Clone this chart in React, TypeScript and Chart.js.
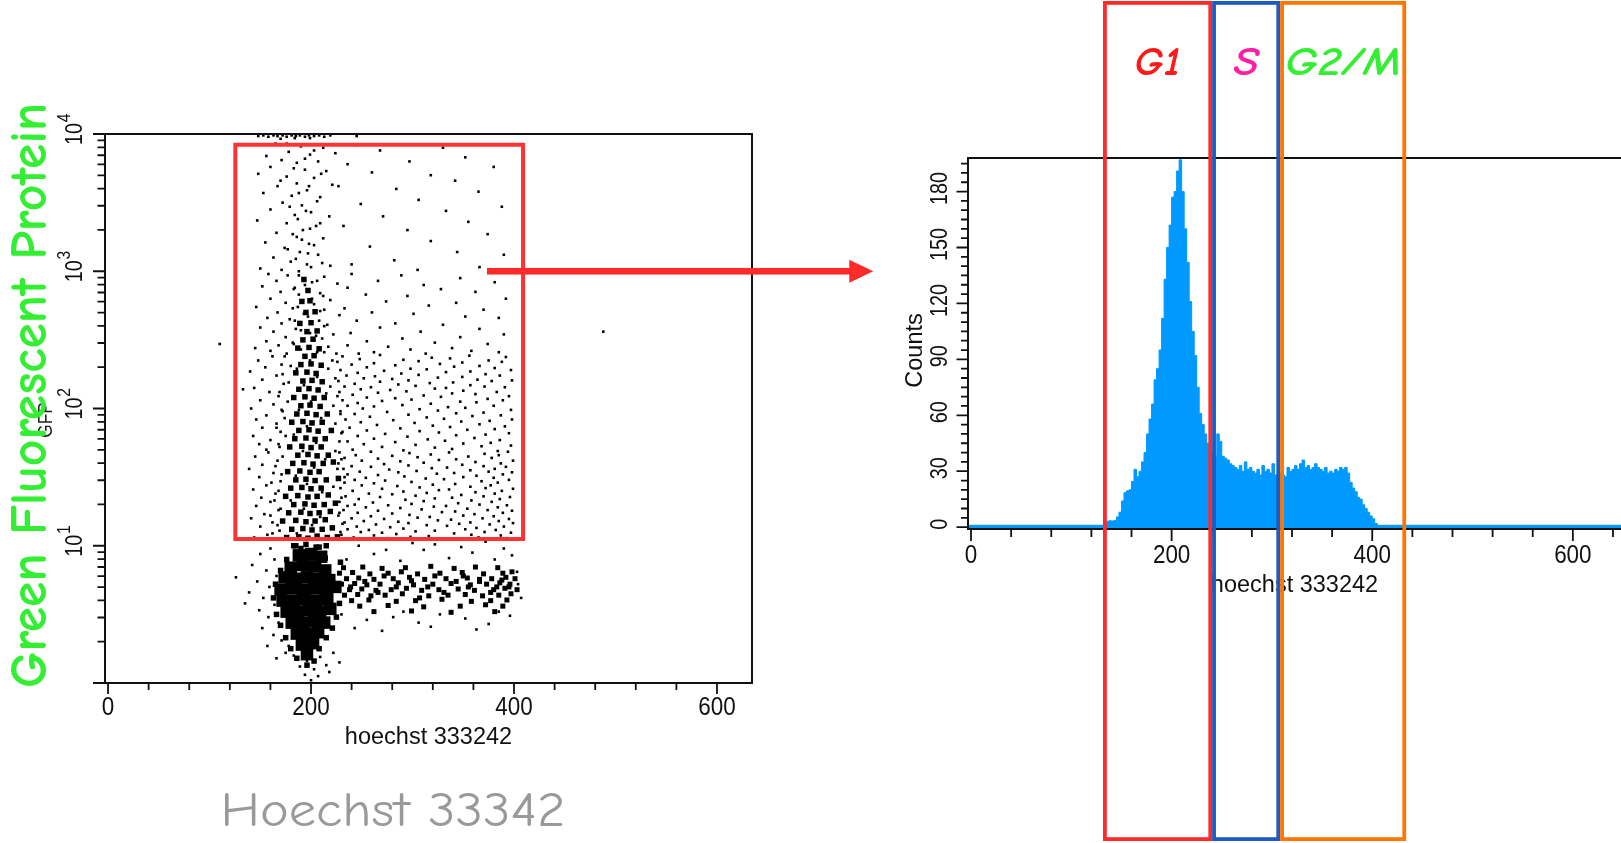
import React, { useEffect, useRef } from 'react';
import { Chart, registerables } from 'chart.js';

Chart.register(...registerables);

const W = 1621;
const H = 843;

// ---------------- Left panel: GFP (log) vs hoechst dot plot ----------------
// pairs of [hoechst channel, log10(GFP)]
const saturatedTop = [
  148, 3.985, 153, 3.99, 158, 3.98, 163, 3.99, 167, 3.985, 172, 3.99, 176, 3.98, 181, 3.99, 185, 3.985,
  189, 3.99, 194, 3.98, 198, 3.99, 203, 3.985, 208, 3.99, 213, 3.98, 219, 3.99, 245, 3.985, 184, 3.97,
  170, 3.965, 199, 3.97,
];
const upperStreak = [
  165, 3.93, 190, 3.91, 212, 3.9, 178, 3.87, 156, 3.84, 199, 3.85, 224, 3.86, 171, 3.81, 186, 3.79, 207, 3.8,
  160, 3.76, 194, 3.74, 215, 3.73, 148, 3.71, 176, 3.69, 203, 3.68, 186, 3.64, 167, 3.62, 221, 3.63, 196, 3.59,
  153, 3.57, 181, 3.55, 209, 3.54, 172, 3.5, 191, 3.48, 160, 3.45, 200, 3.43, 184, 3.41, 218, 3.4, 147, 3.37,
  176, 3.35, 205, 3.33, 192, 3.3, 166, 3.28, 186, 3.25, 212, 3.24, 155, 3.21, 198, 3.2, 174, 3.17, 189, 3.14,
  207, 3.12, 163, 3.1, 180, 3.07, 196, 3.05, 219, 3.04, 150, 3.02, 171, 3.01, 188, 3.0,
];
const upperRight = [
  245, 3.92, 268, 3.88, 330, 3.9, 352, 3.83, 236, 3.78, 297, 3.8, 380, 3.76, 260, 3.72, 318, 3.7, 342, 3.66,
  227, 3.62, 284, 3.6, 365, 3.58, 306, 3.52, 249, 3.49, 388, 3.47, 333, 3.44, 271, 3.4, 355, 3.36, 232, 3.33,
  295, 3.3, 374, 3.27, 318, 3.22, 258, 3.18, 344, 3.14, 390, 3.12, 282, 3.08, 240, 3.05, 366, 3.03, 305, 3.01,
];
const midStreak = [
  158, 2.98, 177, 2.97, 213, 2.96, 166, 2.93, 201, 2.92, 226, 2.91, 152, 2.89, 184, 2.88, 170, 2.85, 209, 2.84,
  188, 2.83, 160, 2.8, 219, 2.79, 175, 2.77, 203, 2.76, 146, 2.74, 182, 2.73, 213, 2.72, 167, 2.7, 193, 2.69,
  228, 2.68, 157, 2.66, 179, 2.65, 208, 2.64, 171, 2.62, 216, 2.61, 150, 2.59, 185, 2.58, 163, 2.56, 199, 2.55,
  222, 2.54, 175, 2.52, 211, 2.51, 156, 2.49, 182, 2.48, 168, 2.46, 217, 2.45, 145, 2.44, 190, 2.43, 160, 2.42,
  206, 2.41, 176, 2.4, 225, 2.4,
];
const midRight = [
  240, 2.98, 289, 2.97, 347, 2.95, 266, 2.93, 381, 2.92, 311, 2.9, 236, 2.88, 328, 2.87, 362, 2.85, 254, 2.83,
  295, 2.82, 392, 2.8, 274, 2.78, 343, 2.77, 316, 2.75, 233, 2.73, 370, 2.72, 260, 2.7, 301, 2.69, 352, 2.67,
  385, 2.66, 245, 2.64, 283, 2.62, 330, 2.61, 268, 2.59, 366, 2.58, 308, 2.56, 239, 2.55, 390, 2.54, 347, 2.52,
  290, 2.51, 255, 2.49, 322, 2.48, 374, 2.47, 236, 2.46, 276, 2.45, 339, 2.44, 298, 2.43, 358, 2.42, 262, 2.41,
  385, 2.41, 313, 2.4, 247, 2.4,
];
const leftFlank = [
  162, 2.38, 148, 2.35, 171, 2.32, 155, 2.3, 140, 2.27, 166, 2.24, 152, 2.21, 173, 2.18, 144, 2.15, 159, 2.12,
  168, 2.09, 150, 2.06, 163, 2.03, 141, 2.0, 172, 1.98, 156, 1.95, 146, 1.92, 166, 1.89, 152, 1.86, 170, 1.83,
  143, 1.8, 160, 1.77, 149, 1.74, 169, 1.72, 156, 1.7, 158, 1.68, 145, 1.65, 167, 1.62, 152, 1.59, 139, 1.56,
  163, 1.53, 149, 1.5, 170, 1.47, 156, 1.44, 143, 1.41, 165, 1.38, 151, 1.35, 160, 1.32, 146, 1.29, 168, 1.26,
  154, 1.23, 141, 1.2, 162, 1.17, 150, 1.14, 169, 1.11, 157, 1.08, 144, 1.06,
];
const streakHalo = [
  162, 1.09, 229, 1.1, 167, 1.15, 233, 1.17, 160, 1.22, 228, 1.24, 170, 1.27, 236, 1.29, 164, 1.33, 230, 1.35,
  168, 1.4, 222, 1.43, 161, 1.46, 233, 1.5, 171, 1.52, 226, 1.56, 165, 1.58, 230, 1.63, 172, 1.65, 224, 1.69,
  168, 1.74, 228, 1.76, 175, 1.8, 231, 1.83, 166, 1.86, 224, 1.89, 174, 1.93, 229, 1.96, 171, 1.99, 222, 2.02,
  177, 2.05, 226, 2.09, 169, 2.12, 219, 2.16, 178, 2.19, 224, 2.22, 172, 2.25, 217, 2.29, 180, 2.31, 221, 2.35, 174, 2.38,
  186, 1.09, 201, 1.15, 209, 1.21, 193, 1.27, 180, 1.33, 211, 1.39, 196, 1.45, 185, 1.51, 203, 1.57, 214, 1.63,
  192, 1.69, 205, 1.75, 183, 1.81, 196, 1.87, 210, 1.93, 188, 1.99, 200, 2.05, 215, 2.11, 193, 2.17, 206, 2.23,
  186, 2.29, 199, 2.35, 213, 2.41,
  183, 2.47, 205, 2.53, 190, 2.57, 213, 2.6, 184, 2.64, 197, 2.67, 209, 2.71, 187, 2.74, 201, 2.8, 212, 2.82,
  183, 2.87, 194, 2.9, 206, 2.93, 188, 2.97, 200, 3.03, 211, 3.06, 185, 3.09, 197, 3.13, 177, 3.16, 203, 3.19,
  191, 3.23, 182, 3.27, 199, 3.31, 209, 3.35, 187, 3.38, 195, 3.44, 179, 3.47, 206, 3.51, 188, 3.57, 198, 3.62,
  170, 3.66, 210, 3.71, 183, 3.75, 194, 3.82, 203, 3.88, 176, 3.93,
];
const lowRight = [
  231, 2.38, 268, 2.39, 319, 2.37, 356, 2.385, 392, 2.375, 248, 2.36, 291, 2.355, 337, 2.365, 375, 2.35,
  226, 2.34, 262, 2.33, 306, 2.345, 349, 2.335, 388, 2.34, 240, 2.32, 283, 2.315, 327, 2.325, 366, 2.31,
  255, 2.3, 298, 2.29, 341, 2.305, 381, 2.295, 229, 2.28, 272, 2.275, 314, 2.285, 357, 2.27, 397, 2.28,
  246, 2.26, 289, 2.255, 333, 2.265, 372, 2.25, 235, 2.24, 263, 2.235, 306, 2.245, 349, 2.23, 386, 2.24,
  252, 2.22, 280, 2.215, 325, 2.225, 364, 2.21, 227, 2.2, 268, 2.195, 296, 2.205, 340, 2.19, 378, 2.2, 398, 2.205,
  243, 2.18, 286, 2.175, 317, 2.185, 357, 2.17, 233, 2.16, 259, 2.155, 303, 2.165, 333, 2.15, 371, 2.16, 391, 2.155,
  249, 2.14, 278, 2.135, 322, 2.145, 350, 2.13, 228, 2.12, 266, 2.115, 294, 2.125, 339, 2.11, 383, 2.12,
  241, 2.1, 311, 2.095, 362, 2.105, 395, 2.09, 255, 2.08, 283, 2.075, 328, 2.085, 374, 2.07,
  231, 2.06, 270, 2.055, 299, 2.065, 347, 2.05, 389, 2.06, 246, 2.04, 318, 2.035, 363, 2.045,
  236, 2.02, 262, 2.015, 290, 2.025, 335, 2.01, 380, 2.02, 251, 2.0, 307, 1.995, 352, 2.005, 397, 1.99,
  229, 1.98, 275, 1.975, 325, 1.985, 370, 1.97, 243, 1.96, 296, 1.955, 343, 1.965, 387, 1.95,
  258, 1.94, 314, 1.935, 359, 1.945, 234, 1.92, 281, 1.915, 331, 1.925, 376, 1.91, 398, 1.92,
  249, 1.9, 302, 1.895, 348, 1.905, 265, 1.88, 320, 1.875, 366, 1.885, 391, 1.87,
  238, 1.86, 288, 1.855, 337, 1.865, 381, 1.85, 255, 1.84, 307, 1.835, 354, 1.845,
  230, 1.82, 273, 1.815, 326, 1.825, 372, 1.81, 395, 1.82, 246, 1.8, 295, 1.795, 343, 1.805,
  262, 1.78, 315, 1.775, 361, 1.785, 386, 1.77, 236, 1.76, 283, 1.755, 332, 1.765, 377, 1.75,
  252, 1.74, 303, 1.735, 350, 1.745, 397, 1.73, 270, 1.72, 322, 1.715, 368, 1.725,
  241, 1.7, 291, 1.695, 339, 1.705, 384, 1.69,
];
const gateBase = [
  228, 1.68, 259, 1.685, 297, 1.675, 336, 1.68, 371, 1.67, 394, 1.685, 244, 1.66, 280, 1.655, 318, 1.665, 355, 1.65, 385, 1.66,
  233, 1.64, 266, 1.635, 305, 1.645, 343, 1.63, 378, 1.64, 250, 1.62, 288, 1.615, 326, 1.625, 362, 1.61, 399, 1.62,
  227, 1.6, 272, 1.595, 311, 1.605, 349, 1.59, 387, 1.6, 240, 1.58, 259, 1.575, 296, 1.585, 334, 1.57, 370, 1.58, 392, 1.575,
  232, 1.56, 277, 1.555, 319, 1.565, 357, 1.55, 381, 1.56, 248, 1.54, 286, 1.535, 304, 1.545, 341, 1.53, 375, 1.54, 398, 1.535,
  236, 1.52, 266, 1.515, 324, 1.525, 363, 1.51, 389, 1.52, 226, 1.5, 254, 1.495, 292, 1.505, 313, 1.49, 350, 1.5, 380, 1.495,
  243, 1.48, 273, 1.475, 331, 1.485, 368, 1.47, 395, 1.48, 233, 1.46, 262, 1.455, 299, 1.465, 342, 1.45, 384, 1.46,
  250, 1.44, 285, 1.435, 320, 1.445, 357, 1.43, 377, 1.44, 229, 1.42, 270, 1.415, 307, 1.425, 336, 1.41, 372, 1.42, 399, 1.415,
  241, 1.4, 291, 1.395, 326, 1.405, 362, 1.39, 388, 1.4, 257, 1.38, 280, 1.375, 314, 1.385, 348, 1.37, 381, 1.38,
  234, 1.36, 268, 1.355, 303, 1.365, 339, 1.35, 370, 1.36, 396, 1.355, 247, 1.34, 293, 1.335, 322, 1.345, 358, 1.33, 386, 1.34,
  228, 1.32, 261, 1.315, 311, 1.325, 345, 1.31, 378, 1.32, 243, 1.3, 276, 1.295, 299, 1.305, 333, 1.29, 366, 1.3, 393, 1.295,
  254, 1.28, 288, 1.275, 321, 1.285, 354, 1.27, 384, 1.28, 232, 1.26, 266, 1.255, 309, 1.265, 342, 1.25, 374, 1.26, 398, 1.255,
  246, 1.24, 280, 1.235, 329, 1.245, 361, 1.23, 389, 1.24, 227, 1.22, 259, 1.215, 297, 1.225, 317, 1.21, 350, 1.22, 380, 1.215,
  240, 1.2, 272, 1.195, 305, 1.205, 338, 1.19, 369, 1.2, 395, 1.195, 252, 1.18, 286, 1.175, 325, 1.185, 357, 1.17, 385, 1.18,
  231, 1.16, 264, 1.155, 296, 1.165, 314, 1.15, 346, 1.16, 376, 1.155, 399, 1.165, 245, 1.14, 278, 1.135, 334, 1.145, 363, 1.13, 390, 1.14,
  236, 1.12, 257, 1.115, 291, 1.125, 322, 1.11, 352, 1.12, 382, 1.115, 249, 1.1, 270, 1.095, 303, 1.105, 341, 1.09, 371, 1.1, 397, 1.095,
  230, 1.08, 262, 1.075, 284, 1.085, 316, 1.07, 358, 1.08, 387, 1.075, 242, 1.06, 275, 1.055, 298, 1.065, 330, 1.05, 365, 1.06, 393, 1.055,
];
const belowGate = [
  160, 0.98, 150, 0.94, 164, 0.9, 142, 0.86, 156, 0.82, 166, 0.78, 147, 0.74, 159, 0.7, 139, 0.66, 153, 0.62,
  164, 0.57, 149, 0.53, 158, 0.48, 168, 0.44, 152, 0.4, 163, 0.35, 171, 0.31, 157, 0.27, 175, 0.22, 166, 0.18,
  183, 0.2, 196, 0.16, 209, 0.19, 222, 0.22, 189, 0.12, 203, 0.1, 215, 0.13, 194, 0.06, 207, 0.05, 200, 0.02,
  228, 0.15, 178, 0.27, 218, 0.08,
  235, 0.9, 262, 0.94, 288, 0.89, 311, 0.97, 336, 0.91, 359, 0.95, 381, 0.9, 398, 0.93, 247, 1.0, 300, 1.02,
  348, 0.99, 372, 1.03, 274, 0.97, 322, 1.01, 390, 0.98,
  230, 0.5, 255, 0.46, 281, 0.48, 306, 0.44, 327, 0.5, 352, 0.47, 375, 0.43, 396, 0.49, 243, 0.4, 270, 0.38,
  318, 0.41, 363, 0.39, 291, 0.52, 385, 0.52, 404, 0.72, 407, 0.62, 403, 0.81,
];
const outliers = [110, 2.47, 488, 2.56, 133, 2.14, 126, 0.77, 135, 0.58];

const gfpTrunk = [
  176, 1.06, 188, 1.065, 197, 1.055, 206, 1.07, 216, 1.06, 226, 1.065, 181, 1.12, 192, 1.125, 201, 1.115, 211, 1.12, 221, 1.13,
  172, 1.18, 185, 1.185, 195, 1.175, 204, 1.18, 214, 1.19, 178, 1.24, 190, 1.245, 199, 1.235, 208, 1.24, 219, 1.25,
  183, 1.3, 194, 1.305, 203, 1.295, 213, 1.3, 224, 1.31, 175, 1.36, 187, 1.365, 197, 1.355, 206, 1.36, 217, 1.37,
  180, 1.42, 191, 1.425, 200, 1.415, 210, 1.42, 185, 1.48, 195, 1.485, 204, 1.475, 215, 1.48, 227, 1.49,
  177, 1.54, 189, 1.545, 199, 1.535, 208, 1.54, 182, 1.6, 193, 1.605, 202, 1.595, 212, 1.6, 222, 1.61,
  187, 1.66, 197, 1.665, 206, 1.655, 217, 1.66, 179, 1.72, 191, 1.725, 200, 1.715, 210, 1.72,
  184, 1.78, 195, 1.785, 204, 1.775, 214, 1.78, 188, 1.84, 198, 1.845, 207, 1.835, 220, 1.84,
  181, 1.9, 192, 1.905, 201, 1.895, 211, 1.9, 186, 1.96, 196, 1.965, 205, 1.955, 216, 1.96,
  190, 2.02, 199, 2.025, 209, 2.015, 183, 2.08, 194, 2.085, 203, 2.075, 213, 2.08, 188, 2.14, 198, 2.145, 207, 2.135,
  192, 2.2, 201, 2.205, 211, 2.195, 185, 2.26, 196, 2.265, 205, 2.255, 190, 2.32, 200, 2.325, 210, 2.315,
  194, 2.38, 203, 2.385, 187, 2.44, 198, 2.445, 208, 2.435, 192, 2.5, 202, 2.505, 196, 2.56, 206, 2.565,
  189, 2.62, 200, 2.625, 195, 2.7, 204, 2.705, 191, 2.78, 199, 2.785, 197, 2.86, 193, 2.94,
  185, 1.0, 195, 1.01, 205, 0.99, 215, 1.0,
];
const g2Band = [
  232, 0.84, 251, 0.845, 270, 0.835, 293, 0.84, 318, 0.85, 341, 0.835, 362, 0.845, 384, 0.84,
  228, 0.8, 241, 0.805, 258, 0.795, 276, 0.8, 289, 0.81, 305, 0.795, 327, 0.8, 349, 0.805, 370, 0.795, 389, 0.8, 398, 0.81,
  235, 0.76, 247, 0.765, 262, 0.755, 281, 0.76, 297, 0.77, 312, 0.755, 333, 0.76, 354, 0.765, 366, 0.755, 378, 0.76, 392, 0.77, 401, 0.76,
  230, 0.72, 243, 0.725, 255, 0.715, 268, 0.72, 286, 0.73, 301, 0.715, 320, 0.72, 338, 0.725, 357, 0.715, 373, 0.72, 386, 0.73, 396, 0.72,
  238, 0.68, 250, 0.685, 264, 0.675, 279, 0.68, 294, 0.69, 309, 0.675, 326, 0.68, 345, 0.685, 361, 0.675, 380, 0.68, 391, 0.69, 403, 0.68,
  233, 0.64, 246, 0.645, 259, 0.635, 273, 0.64, 290, 0.65, 316, 0.635, 335, 0.64, 352, 0.645, 369, 0.635, 385, 0.64, 397, 0.65,
  240, 0.6, 257, 0.605, 284, 0.595, 303, 0.6, 329, 0.61, 358, 0.595, 377, 0.6, 393, 0.605,
  248, 0.56, 276, 0.565, 311, 0.555, 347, 0.56, 372, 0.57, 389, 0.56, 262, 0.52, 299, 0.525, 338, 0.515, 381, 0.52,
  355, 0.7, 366, 0.74, 377, 0.66, 388, 0.75, 395, 0.7, 350, 0.78, 383, 0.7,
  239, 0.7, 253, 0.74, 266, 0.66, 284, 0.7, 299, 0.745, 315, 0.7, 331, 0.66, 343, 0.74, 272, 0.78, 307, 0.62, 322, 0.78,
];
const g1Fringe = [
  163, 0.62, 166, 0.5, 170, 0.42, 175, 0.33, 180, 0.25, 186, 0.18, 208, 0.25, 215, 0.33, 221, 0.4, 225, 0.48,
  228, 0.58, 229, 0.88, 170, 0.82, 176, 0.9, 165, 0.72, 214, 0.91, 196, 0.13, 203, 0.16, 190, 0.98, 208, 0.99, 183, 1.0,
];
const g1Dense = [
  180, 0.84, 192, 0.86, 204, 0.85, 214, 0.82, 174, 0.77, 185, 0.76, 196, 0.77, 207, 0.76, 218, 0.75,
  170, 0.68, 181, 0.69, 192, 0.68, 203, 0.69, 214, 0.68, 224, 0.7, 172, 0.6, 183, 0.6, 194, 0.61, 205, 0.6, 216, 0.61,
  176, 0.52, 187, 0.52, 198, 0.53, 209, 0.52, 219, 0.54, 181, 0.44, 192, 0.44, 203, 0.45, 213, 0.44,
  186, 0.36, 197, 0.36, 207, 0.37, 191, 0.28, 202, 0.29, 196, 0.21, 188, 0.93, 200, 0.94, 210, 0.92,
];

const hoechstTicks = [0, 40, 80, 120, 160, 200, 240, 280, 320, 360, 400, 440, 480, 520, 560, 600];
const histHoechstTicks = [...hoechstTicks, 640];
const hoechstLabels = [0, 200, 400, 600];
const gfpDecades = [1, 2, 3, 4];
const gfpGate = { x0: 125.4, x1: 408.9, y0: 11.2, y1: 8350 };
const gateArrow = { x0: 373.4, x1: 754, gfp: 1000 };

// ---------------- Right panel: hoechst histogram ----------------
const histStart = 132.5;
const histBinWidth = 2.5;
const histBaseline = 1;
const histCounts = [
  1.5, 3.2, 3.4, 3.3, 3.6, 5.5, 8, 14, 18.5, 19.5,
  20, 24.5, 31, 27, 30, 35, 40, 50, 58, 66,
  79, 85, 95, 112, 133, 150, 162, 177, 180, 191,
  197, 180, 160, 142, 121, 105, 92, 75, 61, 55,
  50, 45, 44, 40, 38, 50, 46, 38, 37, 36,
  34, 33, 32, 31, 33, 30, 35, 31, 32, 30,
  29, 31, 28, 33, 30, 31, 29, 34, 28, 27,
  29, 28, 27, 32, 30, 31, 33, 31, 34, 36,
  32, 33, 31, 32, 34, 32, 31, 30, 32, 29,
  30, 29, 31, 30, 32, 31, 32, 29, 24, 21,
  19, 16, 15, 12, 10, 8, 6, 4.5, 2,
];
const countLabels = [0, 30, 60, 90, 120, 150, 180];
const cycleGates = [
  { label: 'G1', from: 131.6, to: 240.4, line: '#ff2a2a', text: '#ff1a1a', textWidth: 46 },
  { label: 'S', from: 240.4, to: 308.2, line: '#1a5bc4', text: '#ff1fa3', textWidth: 25 },
  { label: 'G2/M', from: 308.2, to: 433.8, line: '#ff7700', text: '#33ee33', textWidth: 116 },
];

// ---------------- helpers ----------------
const INK = '#111';
const SANS = '"Liberation Sans", Arial, sans-serif';
const COMIC = '"Comic Sans MS", "Comic Neue", "DejaVu Sans", sans-serif';

function toPoints(flat: number[]) {
  const out: { x: number; y: number }[] = [];
  for (let i = 0; i < flat.length; i += 2) out.push({ x: flat[i], y: Math.pow(10, flat[i + 1]) });
  return out;
}

type TextOpts = {
  font: string;
  color?: string;
  align?: CanvasTextAlign;
  baseline?: CanvasTextBaseline;
  rot?: number;
  sx?: number;
  fitWidth?: number;
};

function drawText(ctx: CanvasRenderingContext2D, s: string, x: number, y: number, o: TextOpts) {
  ctx.save();
  ctx.translate(x, y);
  if (o.rot) ctx.rotate(o.rot);
  ctx.font = o.font;
  let sx = o.sx ?? 1;
  if (o.fitWidth) sx = o.fitWidth / ctx.measureText(s).width;
  ctx.scale(sx, 1);
  ctx.fillStyle = o.color ?? INK;
  ctx.textAlign = o.align ?? 'center';
  ctx.textBaseline = o.baseline ?? 'alphabetic';
  ctx.fillText(s, 0, 0);
  ctx.restore();
}

function tick(ctx: CanvasRenderingContext2D, x0: number, y0: number, x1: number, y1: number) {
  ctx.moveTo(x0, y0);
  ctx.lineTo(x1, y1);
}

const dotPlotDecor = {
  id: 'dotPlotDecor',
  afterDraw(chart: any) {
    const { ctx, chartArea: a } = chart;
    const x = chart.scales.x;
    const y = chart.scales.y;
    ctx.save();
    ctx.strokeStyle = INK;
    ctx.lineWidth = 2;
    ctx.strokeRect(a.left, a.top, a.right - a.left, a.bottom - a.top);
    ctx.lineWidth = 1.8;
    ctx.beginPath();
    for (const v of hoechstTicks) {
      const px = x.getPixelForValue(v);
      tick(ctx, px, a.bottom, px, a.bottom + (hoechstLabels.includes(v) ? 11 : 7));
    }
    for (let n = 0; n < 4; n++) {
      for (let k = 1; k <= 9; k++) {
        const py = y.getPixelForValue(k * Math.pow(10, n));
        tick(ctx, a.left, py, a.left - (k === 1 ? 12 : 7.5), py);
      }
    }
    const pTop = y.getPixelForValue(10000);
    tick(ctx, a.left, pTop, a.left - 12, pTop);
    ctx.stroke();
    for (const v of hoechstLabels) {
      drawText(ctx, String(v), x.getPixelForValue(v), a.bottom + 32, { font: `25.5px ${SANS}`, sx: 0.88 });
    }
    for (const d of gfpDecades) {
      const py = y.getPixelForValue(Math.pow(10, d));
      ctx.save();
      ctx.translate(a.left - 23.5, py);
      ctx.rotate(-Math.PI / 2);
      ctx.scale(0.85, 1);
      ctx.font = `23.3px ${SANS}`;
      ctx.fillStyle = INK;
      ctx.textBaseline = 'alphabetic';
      ctx.textAlign = 'center';
      ctx.fillText('10', 0, 0);
      const w = ctx.measureText('10').width;
      ctx.font = `18.5px ${SANS}`;
      ctx.textAlign = 'left';
      ctx.fillText(String(d), w / 2 + 1, -11.5);
      ctx.restore();
    }
    drawText(ctx, 'hoechst 333242', (a.left + a.right) / 2, a.bottom + 61, { font: `23.5px ${SANS}` });
    drawText(ctx, 'GFP', 52, 420, { font: `21px ${SANS}`, rot: -Math.PI / 2, sx: 0.82, color: '#222' });

    ctx.strokeStyle = '#ff3333';
    ctx.lineWidth = 4;
    const gx0 = x.getPixelForValue(gfpGate.x0);
    const gx1 = x.getPixelForValue(gfpGate.x1);
    const gy0 = y.getPixelForValue(gfpGate.y0);
    const gy1 = y.getPixelForValue(gfpGate.y1);
    ctx.strokeRect(gx0, gy1, gx1 - gx0, gy0 - gy1);

    const ax0 = x.getPixelForValue(gateArrow.x0);
    const ax1 = x.getPixelForValue(gateArrow.x1);
    const ay = y.getPixelForValue(gateArrow.gfp);
    ctx.fillStyle = '#ff2a2a';
    ctx.fillRect(ax0, ay - 3.3, ax1 - 22 - ax0, 6.6);
    ctx.beginPath();
    ctx.moveTo(ax1, ay);
    ctx.lineTo(ax1 - 24, ay - 11.5);
    ctx.lineTo(ax1 - 24, ay + 11.5);
    ctx.closePath();
    ctx.fill();

    drawText(ctx, 'Green Fluorescent Protein', 46, 395.5, {
      font: `bold 52px ${COMIC}`,
      rot: -Math.PI / 2,
      color: '#33ee33',
      fitWidth: 585,
    });
    drawText(ctx, 'Hoechst 33342', 393, 826, { font: `48px ${COMIC}`, color: '#999999', fitWidth: 345 });
    ctx.restore();
  },
};

const histDecor = {
  id: 'histDecor',
  afterDraw(chart: any) {
    const { ctx, chartArea: a } = chart;
    const x = chart.scales.x;
    const y = chart.scales.y;
    ctx.save();
    ctx.strokeStyle = INK;
    ctx.lineWidth = 2;
    ctx.beginPath();
    ctx.moveTo(a.right + 2, a.top);
    ctx.lineTo(a.left, a.top);
    ctx.lineTo(a.left, a.bottom);
    ctx.lineTo(a.right + 2, a.bottom);
    ctx.stroke();
    ctx.lineWidth = 1.8;
    ctx.beginPath();
    for (const v of histHoechstTicks) {
      const px = x.getPixelForValue(v);
      tick(ctx, px, a.bottom, px, a.bottom + (hoechstLabels.includes(v) ? 12 : 8));
    }
    for (let v = 0; v <= 195; v += 5) {
      const py = y.getPixelForValue(v);
      tick(ctx, a.left, py, a.left - (v % 30 === 0 ? 11.5 : 7), py);
    }
    ctx.stroke();
    for (const v of hoechstLabels) {
      drawText(ctx, String(v), x.getPixelForValue(v), a.bottom + 34, { font: `25.5px ${SANS}`, sx: 0.88 });
    }
    for (const v of countLabels) {
      drawText(ctx, String(v), a.left - 21, y.getPixelForValue(v) - 3, {
        font: `23.3px ${SANS}`,
        rot: -Math.PI / 2,
        sx: 0.85,
      });
    }
    drawText(ctx, 'hoechst 333242', (a.left + a.right) / 2, a.bottom + 63, { font: `23.5px ${SANS}` });
    drawText(ctx, 'Counts', a.left - 46, (a.top + a.bottom) / 2 + 7, { font: `23.5px ${SANS}`, rot: -Math.PI / 2 });

    const lw = 3.8;
    const top = 1;
    const bottom = H - 2;
    for (const g of cycleGates) {
      const gx0 = x.getPixelForValue(g.from);
      const gx1 = x.getPixelForValue(g.to);
      ctx.strokeStyle = g.line;
      ctx.lineWidth = lw;
      ctx.strokeRect(gx0 + lw / 2, top + lw / 2, gx1 - gx0 - lw, bottom - top - lw);
    }
    for (const g of cycleGates) {
      const cx = (x.getPixelForValue(g.from) + x.getPixelForValue(g.to)) / 2;
      drawText(ctx, g.label, cx, 75, { font: `italic bold 41px ${COMIC}`, color: g.text, fitWidth: g.textWidth });
    }
    ctx.restore();
  },
};

export default function App() {
  const leftRef = useRef<HTMLCanvasElement>(null);
  const rightRef = useRef<HTMLCanvasElement>(null);

  useEffect(() => {
    document.body.style.margin = '0';
    document.body.style.overflow = 'hidden';

    const dot = (flat: number[], side: number) => ({
      data: toPoints(flat),
      pointStyle: 'rect' as const,
      pointRadius: side / (2 * Math.SQRT1_2),
      pointBackgroundColor: '#000',
      pointBorderWidth: 0,
      pointHoverRadius: 0,
      showLine: false,
    });

    const sparse = [
      ...saturatedTop, ...upperStreak, ...upperRight, ...midStreak, ...midRight,
      ...leftFlank, ...streakHalo, ...lowRight, ...gateBase, ...belowGate, ...outliers,
    ];

    const left = new Chart(leftRef.current as HTMLCanvasElement, {
      type: 'scatter',
      data: {
        datasets: [
          dot(g1Dense, 12.5),
          dot(gfpTrunk, 5.5),
          dot(g2Band, 5),
          dot(g1Fringe, 5.5),
          dot(sparse, 2.6),
        ],
      },
      options: {
        animation: false,
        responsive: false,
        events: [],
        layout: { padding: { left: 105, top: 134, right: W - 752, bottom: H - 683 } },
        scales: {
          x: { type: 'linear', min: -3, max: 634.5, display: false },
          y: { type: 'logarithmic', min: 1, max: 10000, display: false },
        },
        plugins: { legend: { display: false }, tooltip: { enabled: false } },
      },
      plugins: [dotPlotDecor],
    });

    const histPoints = [
      { x: -3, y: histBaseline },
      ...histCounts.map((c, i) => ({ x: histStart + i * histBinWidth, y: c })),
      { x: histStart + histCounts.length * histBinWidth, y: histBaseline },
      { x: 650, y: histBaseline },
    ];

    const right = new Chart(rightRef.current as HTMLCanvasElement, {
      type: 'line',
      data: {
        datasets: [
          {
            data: histPoints,
            stepped: 'before',
            fill: 'start',
            backgroundColor: '#0099ff',
            borderColor: '#0099ff',
            borderWidth: 1,
            pointRadius: 0,
          },
        ],
      },
      options: {
        animation: false,
        responsive: false,
        events: [],
        layout: { padding: { left: 968, top: 158, right: 0, bottom: H - 529 } },
        scales: {
          x: { type: 'linear', min: -3, max: 648, display: false },
          y: { type: 'linear', min: -1, max: 198, display: false },
        },
        plugins: { legend: { display: false }, tooltip: { enabled: false } },
      },
      plugins: [histDecor],
    });

    return () => {
      left.destroy();
      right.destroy();
    };
  }, []);

  return (
    <div style={{ position: 'absolute', left: 0, top: 0, width: W, height: H, background: '#fff', overflow: 'hidden' }}>
      <canvas ref={leftRef} width={W} height={H} style={{ position: 'absolute', left: 0, top: 0 }} />
      <canvas ref={rightRef} width={W} height={H} style={{ position: 'absolute', left: 0, top: 0 }} />
    </div>
  );
}
